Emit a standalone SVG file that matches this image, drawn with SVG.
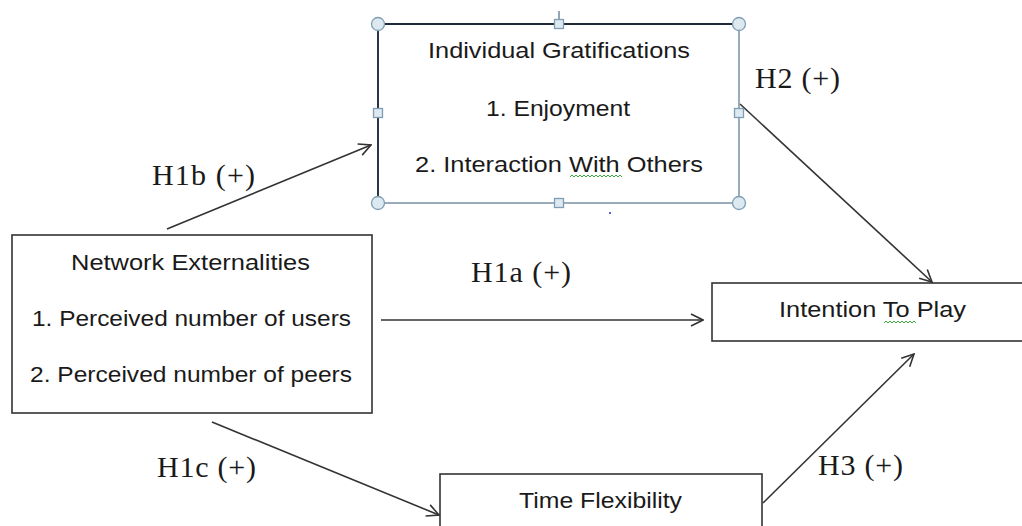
<svg xmlns="http://www.w3.org/2000/svg" width="1022" height="526" viewBox="0 0 1022 526">
<style>
.box{fill:#fff;stroke:#333;stroke-width:1.6}
.t{font-family:"Liberation Sans",Arial,sans-serif;font-size:22px;fill:#1a1a1a;text-anchor:start}
.lab{font-family:"Liberation Serif","Times New Roman",serif;font-size:30px;fill:#1a1a1a}
.con{stroke:#333;stroke-width:1.6;fill:none;marker-end:url(#arr)}
.hc{fill:#dce9f1;stroke:#7f9db3;stroke-width:1.3}
.sq{fill:#dce9f1;stroke:#7f9db3;stroke-width:1.3}
.wavy{fill:none;stroke:#3aa83a;stroke-width:1}
</style>
<defs>
<marker id="arr" viewBox="0 0 14 14" refX="13" refY="7" markerWidth="14" markerHeight="14" markerUnits="userSpaceOnUse" orient="auto">
<path d="M1,1 L13,7 L1,13" fill="none" stroke="#333" stroke-width="1.6"/>
</marker>
</defs>
<rect width="1022" height="526" fill="#fff"/>

<g id="connectors">
<line class="con" x1="167" y1="229" x2="371" y2="145"/>
<line class="con" x1="740" y1="104" x2="932" y2="282"/>
<line class="con" x1="381" y1="320" x2="703" y2="320"/>
<line class="con" x1="212" y1="422" x2="439" y2="515"/>
<line class="con" x1="763" y1="503" x2="914" y2="354"/>
</g>

<g id="labels">
<text class="lab" x="152" y="185" textLength="103" lengthAdjust="spacing">H1b (+)</text>
<text class="lab" x="755" y="88" textLength="85" lengthAdjust="spacing">H2 (+)</text>
<text class="lab" x="471" y="282" textLength="100" lengthAdjust="spacing">H1a (+)</text>
<text class="lab" x="157" y="477" textLength="99" lengthAdjust="spacing">H1c (+)</text>
<text class="lab" x="818" y="475" textLength="85" lengthAdjust="spacing">H3 (+)</text>
</g>

<g id="individual-gratifications">
<rect x="378" y="24" width="361" height="179" fill="#fff" stroke="#7089a0" stroke-width="1.4"/>
<path d="M378,203 L378,24 L739,24" fill="none" stroke="#1e2b38" stroke-width="1.8"/>
<text class="t" x="428" y="58" textLength="262" lengthAdjust="spacingAndGlyphs">Individual Gratifications</text>
<text class="t" x="486" y="116" textLength="144" lengthAdjust="spacingAndGlyphs">1. Enjoyment</text>
<text class="t" x="415" y="172" textLength="288" lengthAdjust="spacingAndGlyphs">2. Interaction With Others</text>
<path class="wavy" d="M570,177 l2,-2 l2,2 l2,-2 l2,2 l2,-2 l2,2 l2,-2 l2,2 l2,-2 l2,2 l2,-2 l2,2 l2,-2 l2,2 l2,-2 l2,2 l2,-2 l2,2 l2,-2 l2,2 l2,-2 l2,2 l2,-2 l2,2 l2,-2 l2,2"/>
<line x1="559" y1="11" x2="559" y2="20" stroke="#4a6a85" stroke-width="1.2"/>
<circle class="hc" cx="378" cy="24" r="6.5"/>
<circle class="hc" cx="739" cy="24" r="6.5"/>
<circle class="hc" cx="378" cy="203" r="6.5"/>
<circle class="hc" cx="739" cy="203" r="6.5"/>
<rect class="sq" x="554.5" y="19.5" width="9" height="9"/>
<rect class="sq" x="554.5" y="198.5" width="9" height="9"/>
<rect class="sq" x="373.5" y="108.5" width="9" height="9"/>
<rect class="sq" x="734.5" y="108.5" width="9" height="9"/>
<circle cx="610" cy="213" r="1" fill="#2233cc"/>
</g>

<g id="network-externalities">
<rect class="box" x="12" y="235" width="360" height="178"/>
<text class="t" x="71" y="270" textLength="239" lengthAdjust="spacingAndGlyphs">Network Externalities</text>
<text class="t" x="32" y="326" textLength="319" lengthAdjust="spacingAndGlyphs">1. Perceived number of users</text>
<text class="t" x="30" y="382" textLength="322" lengthAdjust="spacingAndGlyphs">2. Perceived number of peers</text>
</g>

<g id="intention-to-play">
<rect class="box" x="712" y="283" width="320" height="58"/>
<text class="t" x="779" y="317" textLength="187" lengthAdjust="spacingAndGlyphs">Intention To Play</text>
<path class="wavy" d="M884,323 l2,-2 l2,2 l2,-2 l2,2 l2,-2 l2,2 l2,-2 l2,2 l2,-2 l2,2 l2,-2 l2,2 l2,-2 l2,2 l2,-2 l2,2"/>
</g>

<g id="time-flexibility">
<rect class="box" x="440" y="474" width="322" height="70"/>
<text class="t" x="519" y="508" textLength="163" lengthAdjust="spacingAndGlyphs">Time Flexibility</text>
</g>
</svg>
